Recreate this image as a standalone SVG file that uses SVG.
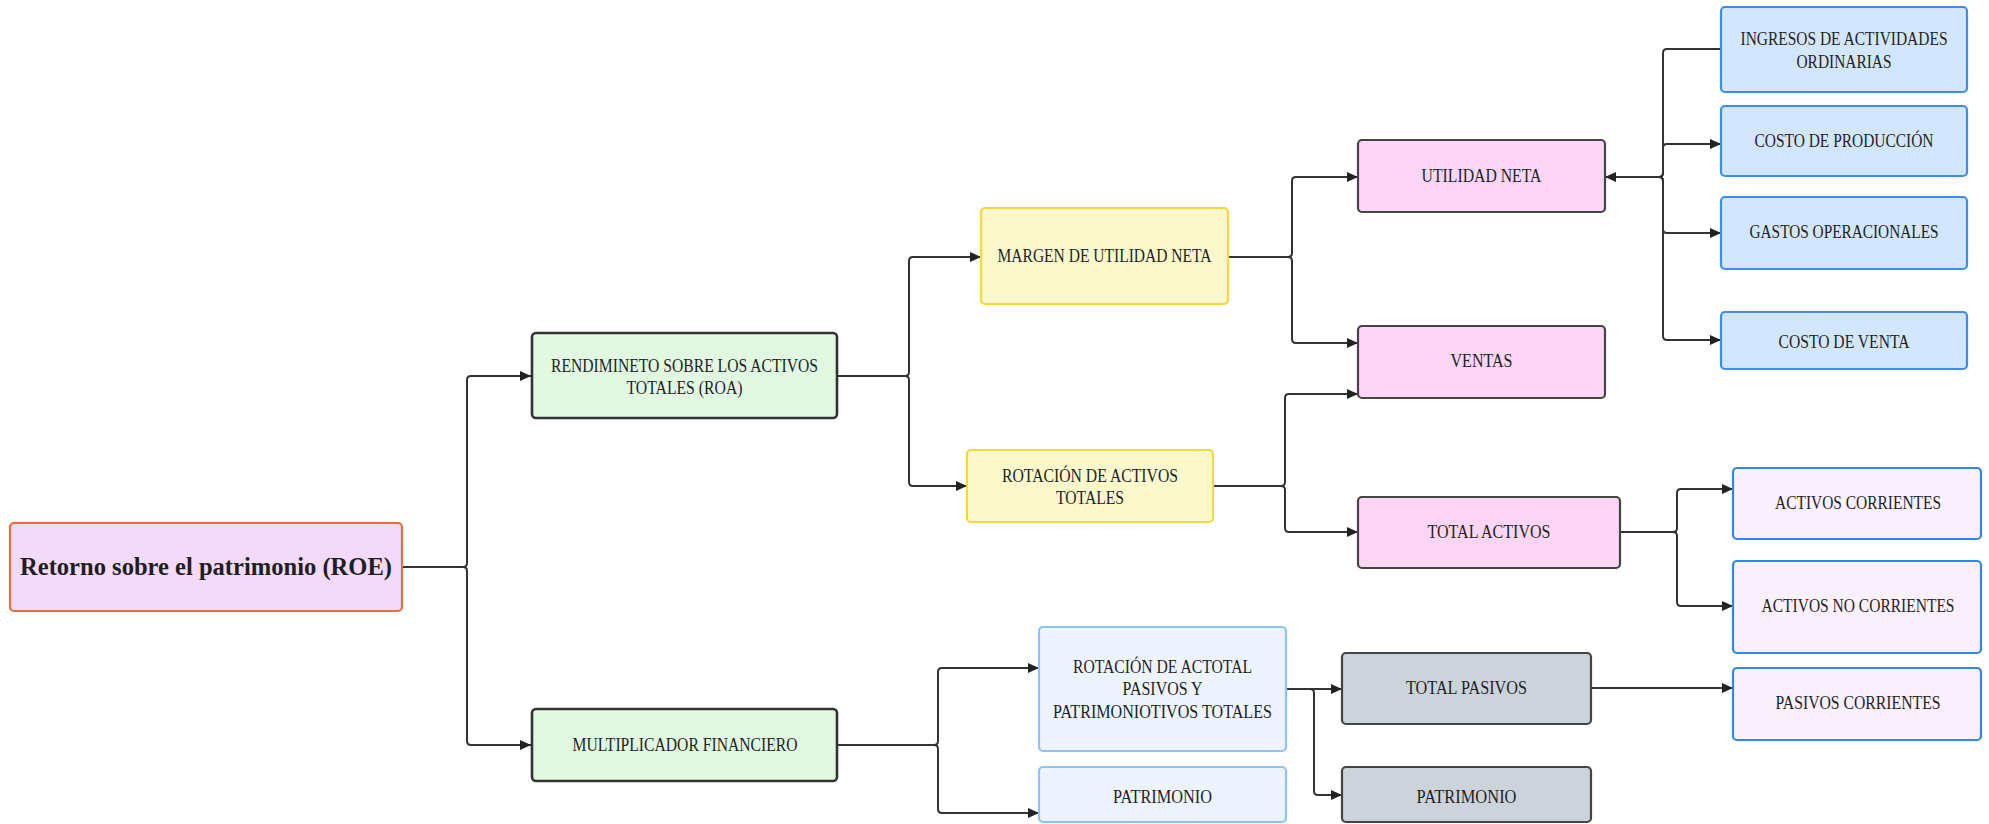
<svg xmlns="http://www.w3.org/2000/svg" width="1989" height="824" viewBox="0 0 1989 824">
<style>
.n{stroke-width:2.2}
.t{font-family:"Liberation Serif","Times New Roman",serif;font-size:18px;fill:#1f1f1f;text-anchor:middle}
.roe{fill:#f3dafb;stroke:#e4703c}
.grn{fill:#e1f8e1;stroke:#333;stroke-width:2.6}
.yel{fill:#fbf9cc;stroke:#f6d936}
.pnk{fill:#fdd6f5;stroke:#444}
.blu{fill:#d2e6fd;stroke:#3b8ef0}
.lbl{fill:#edf4ff;stroke:#8fc3f7}
.gry{fill:#ccd3db;stroke:#444}
.lav{fill:#fbf0fd;stroke:#2f86ee}
.c{fill:none;stroke:#333;stroke-width:2}
.a{marker-end:url(#arr)}
</style>
<defs>
<marker id="arr" markerUnits="userSpaceOnUse" markerWidth="12" markerHeight="10" refX="11" refY="5" orient="auto">
<path d="M0,0 L11,5 L0,10 z" fill="#222"/>
</marker>
</defs>
<rect width="1989" height="824" fill="#fff"/>
<g id="connectors">
<path class="c a" d="M402,567 H463 Q467,567 467,563 V380 Q467,376 471,376 H531"/>
<path class="c a" d="M402,567 H463 Q467,567 467,571 V741 Q467,745 471,745 H531"/>
<path class="c a" d="M837,376 H905 Q909,376 909,372 V261 Q909,257 913,257 H981"/>
<path class="c a" d="M837,376 H905 Q909,376 909,380 V482 Q909,486 913,486 H967"/>
<path class="c a" d="M837,745 H934 Q938,745 938,741 V672 Q938,668 942,668 H1039"/>
<path class="c a" d="M837,745 H934 Q938,745 938,749 V809 Q938,813 942,813 H1039"/>
<path class="c a" d="M1228,257 H1288 Q1292,257 1292,253 V181 Q1292,177 1296,177 H1358"/>
<path class="c a" d="M1228,257 H1288 Q1292,257 1292,261 V339 Q1292,343 1296,343 H1358"/>
<path class="c a" d="M1213,486 H1281 Q1285,486 1285,482 V398 Q1285,394 1289,394 H1358"/>
<path class="c a" d="M1213,486 H1281 Q1285,486 1285,490 V528 Q1285,532 1289,532 H1358"/>
<path class="c a" d="M1721,49 H1667 Q1663,49 1663,53 V173 Q1663,177 1659,177 H1605"/>
<path class="c a" d="M1659,177 Q1663,177 1663,173 V148 Q1663,144 1667,144 H1721"/>
<path class="c a" d="M1659,177 Q1663,177 1663,181 V229 Q1663,233 1667,233 H1721"/>
<path class="c a" d="M1659,177 Q1663,177 1663,181 V336 Q1663,340 1667,340 H1721"/>
<path class="c a" d="M1286,689 H1342"/>
<path class="c a" d="M1310,689 Q1314,689 1314,693 V791 Q1314,795 1318,795 H1342"/>
<path class="c a" d="M1620,532 H1673 Q1677,532 1677,528 V493 Q1677,489 1681,489 H1733"/>
<path class="c a" d="M1620,532 H1673 Q1677,532 1677,536 V602 Q1677,606 1681,606 H1733"/>
<path class="c a" d="M1591,688 H1733"/>
</g>
<g id="roe"><rect class="n roe" x="10" y="523" width="392" height="88" rx="4"/>
<text class="t" x="206" y="575" style="font-size:25px;font-weight:bold" textLength="372" lengthAdjust="spacingAndGlyphs">Retorno sobre el patrimonio (ROE)</text></g>
<g id="roa"><rect class="n grn" x="532" y="333" width="305" height="85" rx="4"/>
<text class="t" x="684.5" y="372" textLength="267" lengthAdjust="spacingAndGlyphs">RENDIMINETO SOBRE LOS ACTIVOS</text>
<text class="t" x="684.5" y="394" textLength="116" lengthAdjust="spacingAndGlyphs">TOTALES (ROA)</text></g>
<g id="multiplicador"><rect class="n grn" x="532" y="709" width="305" height="72" rx="4"/>
<text class="t" x="685" y="751" textLength="225" lengthAdjust="spacingAndGlyphs">MULTIPLICADOR FINANCIERO</text></g>
<g id="margen"><rect class="n yel" x="981" y="208" width="247" height="96" rx="4"/>
<text class="t" x="1104.5" y="262" textLength="214" lengthAdjust="spacingAndGlyphs">MARGEN DE UTILIDAD NETA</text></g>
<g id="rotacion-activos"><rect class="n yel" x="967" y="450" width="246" height="72" rx="4"/>
<text class="t" x="1090" y="482" textLength="176" lengthAdjust="spacingAndGlyphs">ROTACIÓN DE ACTIVOS</text>
<text class="t" x="1090" y="504" textLength="68" lengthAdjust="spacingAndGlyphs">TOTALES</text></g>
<g id="utilidad-neta"><rect class="n pnk" x="1358" y="140" width="247" height="72" rx="4"/>
<text class="t" x="1481.5" y="182" textLength="120" lengthAdjust="spacingAndGlyphs">UTILIDAD NETA</text></g>
<g id="ventas"><rect class="n pnk" x="1358" y="326" width="247" height="72" rx="4"/>
<text class="t" x="1481.5" y="367" textLength="62" lengthAdjust="spacingAndGlyphs">VENTAS</text></g>
<g id="total-activos"><rect class="n pnk" x="1358" y="497" width="262" height="71" rx="4"/>
<text class="t" x="1489" y="538" textLength="123" lengthAdjust="spacingAndGlyphs">TOTAL ACTIVOS</text></g>
<g id="ingresos"><rect class="n blu" x="1721" y="7" width="246" height="85" rx="4"/>
<text class="t" x="1844" y="45" textLength="207" lengthAdjust="spacingAndGlyphs">INGRESOS DE ACTIVIDADES</text>
<text class="t" x="1844" y="68" textLength="95" lengthAdjust="spacingAndGlyphs">ORDINARIAS</text></g>
<g id="costo-produccion"><rect class="n blu" x="1721" y="106" width="246" height="70" rx="4"/>
<text class="t" x="1844" y="147" textLength="179" lengthAdjust="spacingAndGlyphs">COSTO DE PRODUCCIÓN</text></g>
<g id="gastos"><rect class="n blu" x="1721" y="197" width="246" height="72" rx="4"/>
<text class="t" x="1844" y="238" textLength="189" lengthAdjust="spacingAndGlyphs">GASTOS OPERACIONALES</text></g>
<g id="costo-venta"><rect class="n blu" x="1721" y="312" width="246" height="57" rx="4"/>
<text class="t" x="1844" y="348" textLength="131" lengthAdjust="spacingAndGlyphs">COSTO DE VENTA</text></g>
<g id="rotacion-actotal"><rect class="n lbl" x="1039" y="627" width="247" height="124" rx="4"/>
<text class="t" x="1162.5" y="673" textLength="179" lengthAdjust="spacingAndGlyphs">ROTACIÓN DE ACTOTAL</text>
<text class="t" x="1162.5" y="695" textLength="80" lengthAdjust="spacingAndGlyphs">PASIVOS Y</text>
<text class="t" x="1162.5" y="718" textLength="219" lengthAdjust="spacingAndGlyphs">PATRIMONIOTIVOS TOTALES</text></g>
<g id="patrimonio-1"><rect class="n lbl" x="1039" y="767" width="247" height="55" rx="4"/>
<text class="t" x="1162.5" y="803" textLength="99" lengthAdjust="spacingAndGlyphs">PATRIMONIO</text></g>
<g id="total-pasivos"><rect class="n gry" x="1342" y="653" width="249" height="71" rx="4"/>
<text class="t" x="1466.5" y="694" textLength="121" lengthAdjust="spacingAndGlyphs">TOTAL PASIVOS</text></g>
<g id="patrimonio-2"><rect class="n gry" x="1342" y="767" width="249" height="55" rx="4"/>
<text class="t" x="1466.5" y="803" textLength="100" lengthAdjust="spacingAndGlyphs">PATRIMONIO</text></g>
<g id="activos-corrientes"><rect class="n lav" x="1733" y="468" width="248" height="71" rx="4"/>
<text class="t" x="1858" y="509" textLength="166" lengthAdjust="spacingAndGlyphs">ACTIVOS CORRIENTES</text></g>
<g id="activos-no-corrientes"><rect class="n lav" x="1733" y="561" width="248" height="92" rx="4"/>
<text class="t" x="1858" y="612" textLength="193" lengthAdjust="spacingAndGlyphs">ACTIVOS NO CORRIENTES</text></g>
<g id="pasivos-corrientes"><rect class="n lav" x="1733" y="668" width="248" height="72" rx="4"/>
<text class="t" x="1858" y="709" textLength="165" lengthAdjust="spacingAndGlyphs">PASIVOS CORRIENTES</text></g>
</svg>
